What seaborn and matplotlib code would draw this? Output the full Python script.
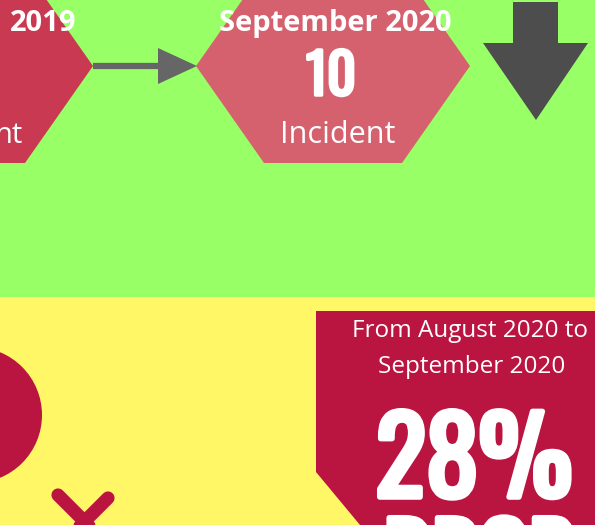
import matplotlib
matplotlib.use('Agg')
import matplotlib.pyplot as plt
import matplotlib.patheffects as pe
import seaborn as sns
from matplotlib.patches import Polygon, Circle
from matplotlib import font_manager

# text / values of the infographic
prev_label = '2019'
prev_unit = 'nt'
curr_label = 'September 2020'
curr_incidents = 10
curr_unit = 'Incident'
period_lines = ['From August 2020 to', 'September 2020']
drop_pct = 28
drop_word = 'DROP'

sns.set_theme(style='white')
names = {f.name for f in font_manager.fontManager.ttflist}
narrow = 'Oswald' if 'Oswald' in names else 'DejaVu Sans'
plt.rcParams['font.family'] = ['Open Sans', 'DejaVu Sans']

fig = plt.figure(figsize=(5.95, 5.25), dpi=100)
ax = fig.add_axes([0, 0, 1, 1])
ax.set_xlim(0, 595)
ax.set_ylim(525, 0)
ax.axis('off')

green = '#99FF66'
yellow = '#FFF766'
crimson = '#BA1441'

# backgrounds
ax.add_patch(Polygon([(0, 0), (595, 0), (595, 297), (0, 297)], color=green, lw=0))
ax.add_patch(Polygon([(0, 297), (595, 297), (595, 525), (0, 525)], color=yellow, lw=0))

# hexagons
def hexagon(cx, color):
    pts = [(cx - 137, 66), (cx - 69, -31), (cx + 69, -31),
           (cx + 137, 66), (cx + 69, 163), (cx - 69, 163)]
    ax.add_patch(Polygon(pts, color=color, lw=0))

hexagon(-44, '#C93A52')
hexagon(333, '#D6616E')

# connector arrow
ax.plot([93, 160], [66, 66], color='#666666', lw=4.5, solid_capstyle='butt')
ax.add_patch(Polygon([(158, 48), (197, 66), (158, 84)], color='#666666', lw=0))

# big down arrow
ax.add_patch(Polygon([(513, 2), (558, 2), (558, 43), (588, 43), (536, 120),
                      (483, 43), (513, 43)], color='#4D4D4D', lw=0))

# heavier look for the condensed numbers (only a regular Oswald is installed)
def heavy(w):
    return [pe.withStroke(linewidth=w, foreground='white')]

# hexagon texts
ax.text(43, 31, prev_label, color='white', fontsize=21, fontweight='bold',
        ha='center', va='baseline')
ax.text(23, 143, prev_unit, color='white', fontsize=21,
        ha='right', va='baseline')
ax.text(335, 31, curr_label, color='white', fontsize=21, fontweight='bold',
        ha='center', va='baseline')
ax.text(331, 95, str(curr_incidents), color='white', fontsize=40,
        family=narrow, ha='center', va='baseline', path_effects=heavy(2.5))
ax.text(338, 143, curr_unit, color='white', fontsize=22,
        ha='center', va='baseline')

# female symbol
ax.add_patch(Circle((-26, 415), 68, color=crimson, lw=0))
ax.plot([58, 120], [495, 557], color=crimson, lw=9.5, solid_capstyle='round')
ax.plot([108, 50], [498, 556], color=crimson, lw=9.5, solid_capstyle='round')

# drop box
ax.add_patch(Polygon([(316, 311), (640, 311), (640, 472), (596, 525), (360, 525),
                      (316, 472)], color=crimson, lw=0))
ax.text(470, 337, period_lines[0], color='white', fontsize=17.5,
        ha='center', va='baseline')
ax.text(472, 373, period_lines[1], color='white', fontsize=17.5,
        ha='center', va='baseline')
ax.text(474, 497, f'{drop_pct}%', color='white', fontsize=76,
        family=narrow, ha='center', va='baseline', path_effects=heavy(4))
ax.text(478, 517, drop_word, color='white', fontsize=66,
        family=narrow, ha='center', va='top', path_effects=heavy(4))

fig.savefig('out.png', dpi=100)
